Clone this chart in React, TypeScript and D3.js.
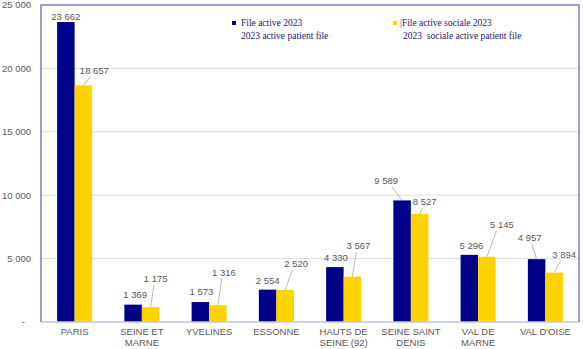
import { useEffect, useRef } from "react";
import * as d3 from "d3";

// Départements (catégories)
const categories = [
    ["PARIS"],
    ["SEINE ET", "MARNE"],
    ["YVELINES"],
    ["ESSONNE"],
    ["HAUTS DE", "SEINE (92)"],
    ["SEINE SAINT", "DENIS"],
    ["VAL DE", "MARNE"],
    ["VAL D'OISE"],
];
const series = ["File active 2023", "File active sociale 2023"];
const fileActive = [23662, 1369, 1573, 2554, 4330, 9589, 5296, 4957];
const fileActiveSociale = [18657, 1175, 1316, 2520, 3567, 8527, 5145, 3894];
const yTicks = [0, 5000, 10000, 15000, 20000, 25000];

// label offsets from bar top centre: [dx, dy, leader]
const blueLabelOffsets: [number, number, boolean][] = [
    [0, -5, false], [2, -10, false], [1, -10, false], [0, -9, false],
    [1, -9, false], [-16, -20, true], [2, -9, false], [-7, -21, true],
];
const yellowLabelOffsets: [number, number, boolean][] = [
    [11, -15, true], [5, -28, true], [6, -33, true], [11, -26, true],
    [6, -31, true], [5, -12, true], [15, -32, true], [10, -18, true],
];

const colors = ["#000088", "#ffd200"];
const FONT = "'Liberation Sans', Arial, sans-serif";

export default function App() {
    const svgRef = useRef<SVGSVGElement | null>(null);

    useEffect(() => {
        if (!svgRef.current) return;
        const svg = d3.select(svgRef.current);
        svg.selectAll("*").remove();

        const width = 583;
        const height = 349;
        const left = 41, right = 579, top = 5, bottom = 322;

        const keys = categories.map((c) => c.join(" "));
        const x = d3.scaleBand().domain(keys).range([left, right]).padding(0);
        const x1 = d3
            .scaleBand()
            .domain(series)
            .range([0, x.bandwidth()])
            .paddingInner(0)
            .paddingOuter(0.92);
        const y = d3.scaleLinear().domain([0, 25000]).range([bottom, top]);

        svg.attr("width", width).attr("height", height);

        // gridlines
        svg.append("g")
            .selectAll("line")
            .data(yTicks.filter((t) => t > 0 && t < 25000))
            .enter()
            .append("line")
            .attr("x1", left)
            .attr("x2", right)
            .attr("y1", (d) => y(d))
            .attr("y2", (d) => y(d))
            .attr("stroke", "#dcdcdc")
            .attr("stroke-width", 1);

        // y tick labels
        const fmt = (v: number) =>
            v === 0 ? "-" : d3.format(",")(v).replace(/,/g, " ");
        svg.append("g")
            .selectAll("text")
            .data(yTicks)
            .enter()
            .append("text")
            .attr("x", (d) => (d === 0 ? 25 : 31))
            .attr("y", (d) => y(d))
            .attr("dy", "0.35em")
            .attr("text-anchor", "end")
            .attr("font-family", FONT)
            .attr("font-size", "9.5px")
            .attr("fill", "#595959")
            .text(fmt);

        // bars
        const values = [fileActive, fileActiveSociale];
        values.forEach((vals, si) => {
            svg.append("g")
                .selectAll("rect")
                .data(vals)
                .enter()
                .append("rect")
                .attr("x", (_, i) => (x(keys[i]) || 0) + (x1(series[si]) || 0))
                .attr("y", (d) => y(d))
                .attr("width", x1.bandwidth())
                .attr("height", (d) => bottom - y(d))
                .attr("fill", colors[si]);
        });

        // value labels
        const offsets = [blueLabelOffsets, yellowLabelOffsets];
        values.forEach((vals, si) => {
            const g = svg.append("g");
            vals.forEach((v, i) => {
                const bx = (x(keys[i]) || 0) + (x1(series[si]) || 0) + x1.bandwidth() / 2;
                const by = y(v);
                const [dx, dy, leader] = offsets[si][i];
                const lx = bx + dx;
                const ly = by + dy;
                if (leader) {
                    g.append("line")
                        .attr("x1", bx)
                        .attr("y1", by)
                        .attr("x2", lx - 0.35 * dx)
                        .attr("y2", ly + 6)
                        .attr("stroke", "#a6a6a6")
                        .attr("stroke-width", 0.8);
                }
                g.append("text")
                    .attr("x", lx)
                    .attr("y", ly)
                    .attr("dy", "0.35em")
                    .attr("text-anchor", "middle")
                    .attr("font-family", FONT)
                    .attr("font-size", "9.5px")
                    .attr("fill", "#595959")
                    .text(fmt(v));
            });
        });

        // category labels
        const cat = svg.append("g");
        categories.forEach((lines, i) => {
            const cx = (x(keys[i]) || 0) + x.bandwidth() / 2;
            lines.forEach((line, li) => {
                cat.append("text")
                    .attr("x", cx)
                    .attr("y", 332 + li * 11)
                    .attr("dy", "0.35em")
                    .attr("text-anchor", "middle")
                    .attr("font-family", FONT)
                    .attr("font-size", "9.5px")
                    .attr("fill", "#595959")
                    .text(line);
            });
        });

        // frame
        svg.append("line")
            .attr("x1", left)
            .attr("x2", right)
            .attr("y1", bottom)
            .attr("y2", bottom)
            .attr("stroke", "#c4c4e4")
            .attr("stroke-width", 1.5);
        svg.append("path")
            .attr("d", `M${left},${bottom}V${top}H${right}V${bottom}`)
            .attr("fill", "none")
            .attr("stroke", "#7c7cc6")
            .attr("stroke-width", 1.5);

        // legend
        const legendX = [232, 393];
        const legendLine2 = ["2023 active patient file", "2023  sociale active patient file"];
        const legendLine1 = [series[0], "|" + series[1]];
        const lg = svg.append("g");
        series.forEach((_, si) => {
            lg.append("rect")
                .attr("x", legendX[si])
                .attr("y", 21)
                .attr("width", 4)
                .attr("height", 4)
                .attr("fill", colors[si]);
            lg.append("text")
                .attr("x", legendX[si] + (si === 0 ? 9 : 7))
                .attr("y", 23)
                .attr("dy", "0.35em")
                .attr("font-family", "'Liberation Serif', 'Times New Roman', serif")
                .attr("font-size", "9.5px")
                .attr("fill", "#1f2060")
                .text(legendLine1[si]);
            lg.append("text")
                .attr("x", legendX[si] + (si === 0 ? 9 : 10))
                .attr("y", 36)
                .attr("dy", "0.35em")
                .attr("xml:space", "preserve")
                .style("white-space", "pre")
                .attr("font-family", "'Liberation Serif', 'Times New Roman', serif")
                .attr("font-size", "9.5px")
                .attr("fill", "#1f2060")
                .text(legendLine2[si]);
        });
    }, []);

    return (
        <svg
            ref={svgRef}
            style={{ position: "absolute", left: 0, top: 0, display: "block", background: "#fff" }}
        />
    );
}
